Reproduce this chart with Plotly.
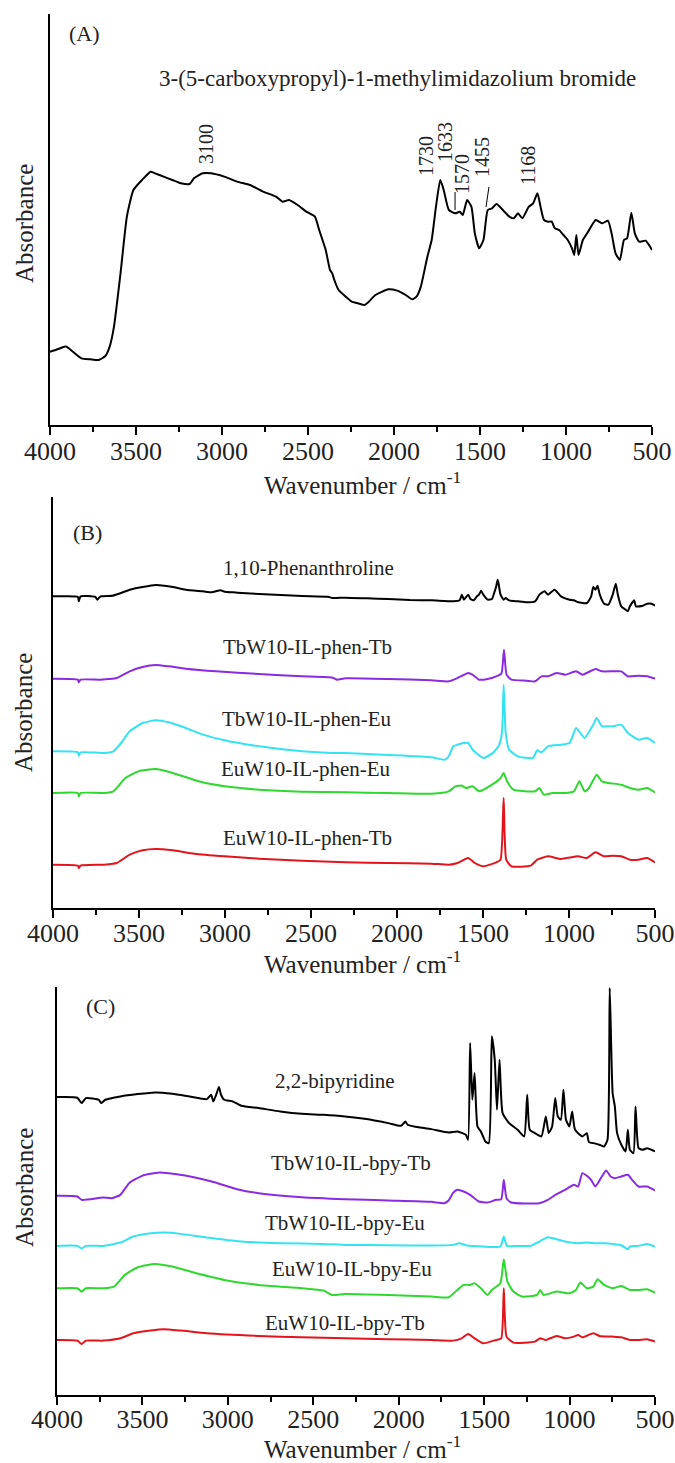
import plotly.graph_objects as go

# ---------------- Panel A : 3-(5-carboxypropyl)-1-methylimidazolium bromide ----------------
A_wn = [4000, 3967, 3917, 3905, 3867, 3817, 3766, 3716, 3678, 3653, 3628, 3590, 3553, 3515, 3465,
        3415, 3389, 3339, 3289, 3239, 3188, 3163, 3113, 3063, 2987, 2912, 2837, 2761, 2686, 2648,
        2611, 2560, 2510, 2460, 2435, 2397, 2372, 2359, 2347, 2322, 2281, 2246, 2209, 2171, 2146,
        2108, 2033, 1982, 1932, 1894, 1869, 1844, 1806, 1781, 1756, 1731, 1711, 1681, 1643, 1618,
        1600, 1575, 1550, 1530, 1505, 1480, 1455, 1430, 1404, 1367, 1329, 1304, 1279, 1254, 1216,
        1191, 1166, 1148, 1128, 1103, 1083, 1065, 1040, 1015, 990, 965, 952, 940, 927, 902,
        877, 827, 789, 756, 735, 712, 687, 663, 645, 620, 600, 575, 537, 500]
A_abs = [22.0, 22.5, 23.5, 23.5, 22.0, 20.0, 19.7, 19.5, 20.7, 23.5, 29.5, 45.5, 62.5, 70.5, 73.5,
         76.0, 75.5, 74.5, 73.5, 72.5, 72.3, 74.0, 75.5, 75.5, 74.5, 73.0, 72.0, 70.0, 68.5, 67.0,
         67.5, 66.0, 64.0, 62.5, 58.5, 52.5, 46.5, 45.5, 43.5, 40.5, 38.5, 37.0, 36.5, 36.0, 37.0,
         39.0, 40.7, 40.3, 39.0, 37.7, 38.5, 41.5, 50.5, 55.5, 65.5, 73.5, 70.5, 64.5, 63.5, 64.0,
         63.0, 67.5, 65.5, 57.5, 53.0, 55.5, 64.5, 65.0, 66.3, 64.5, 62.5, 62.0, 63.5, 62.0, 65.5,
         66.5, 69.5, 65.5, 61.5, 61.0, 61.0, 59.0, 58.5, 57.0, 55.5, 53.0, 51.0, 57.0, 51.0, 55.5,
         57.5, 61.5, 60.5, 61.3, 57.5, 51.5, 49.5, 55.5, 56.0, 63.7, 57.5, 55.0, 55.3, 52.5]
A_title = "3-(5-carboxypropyl)-1-methylimidazolium bromide"
A_peak_text = ["3100", "1730", "1633", "1570", "1455", "1168"]
A_peak_text_wn = [3093, 1814, 1704, 1605, 1488, 1221]
A_peak_text_y = [84.3, 80.7, 84.9, 75.3, 80.4, 78.0]
A_leader_wn0 = [1645, 1448]
A_leader_wn1 = [1645, 1465]
A_leader_y0 = [69.9, 71.4]
A_leader_y1 = [64.5, 65.4]

# ---------------- Panel B : phen series ----------------
B_black_wn = [4000, 3930, 3855, 3850, 3840, 3754, 3742, 3724, 3654, 3604, 3554, 3479, 3403, 3353,
              3303, 3228, 3128, 3077, 3027, 3002, 2952, 2902, 2802, 2676, 2551, 2401, 2375, 2300,
              2175, 2050, 1924, 1799, 1673, 1636, 1623, 1611, 1586, 1573, 1553, 1536, 1523, 1511,
              1498, 1473, 1448, 1435, 1423, 1415, 1410, 1398, 1380, 1368, 1348, 1297, 1247, 1197,
              1172, 1142, 1122, 1084, 1047, 997, 972, 947, 896, 871, 859, 846, 834, 821, 796,
              771, 746, 728, 716, 696, 671, 658, 646, 621, 611, 570, 545, 520, 500]
B_black = [93.5, 93.5, 93.3, 92.0, 93.5, 93.3, 92.5, 93.5, 93.7, 94.5, 95.5, 96.3, 96.9, 96.7,
           96.3, 95.5, 95.0, 94.7, 95.3, 94.9, 94.7, 94.5, 94.2, 93.9, 93.6, 93.4, 93.0, 93.1,
           92.9, 92.7, 92.4, 92.3, 92.0, 92.3, 94.0, 92.5, 94.0, 92.7, 92.3, 93.5, 94.0, 95.2,
           94.0, 92.5, 92.7, 94.5, 96.5, 98.5, 97.5, 94.0, 92.5, 93.0, 92.3, 92.0, 91.7, 92.0,
           94.0, 95.0, 94.0, 95.5, 93.5, 92.5, 92.3, 91.7, 91.5, 93.5, 96.3, 95.5, 96.7, 94.0, 91.3,
           91.0, 94.0, 97.3, 94.0, 90.5, 89.5, 89.0, 90.5, 92.3, 90.5, 90.7, 91.3, 91.3, 90.7]

B_purple_wn = [4000, 3855, 3850, 3840, 3729, 3679, 3629, 3554, 3479, 3403, 3328, 3228, 3052, 2802,
               2551, 2375, 2350, 2300, 2050, 1799, 1699, 1648, 1586, 1561, 1523, 1473, 1423, 1393,
               1378, 1363, 1335, 1247, 1197, 1160, 1122, 1072, 1022, 959, 921, 846, 809, 746,
               696, 658, 596, 545, 500]
B_purple = [68.8, 68.5, 67.7, 68.5, 68.5, 68.7, 69.0, 71.0, 72.3, 72.9, 72.5, 71.8, 71.0, 70.2,
            69.5, 69.1, 68.5, 68.9, 68.7, 68.3, 68.0, 69.0, 70.5, 70.0, 68.5, 68.7, 69.5, 70.3,
            77.5, 70.0, 68.5, 68.2, 68.0, 69.5, 69.5, 70.5, 70.0, 71.0, 70.0, 71.7, 71.0, 71.0,
            71.0, 69.5, 69.7, 69.5, 68.8]

B_cyan_wn = [4000, 3855, 3850, 3840, 3704, 3649, 3604, 3554, 3479, 3403, 3328, 3228, 3128, 3002,
             2802, 2551, 2375, 2300, 2050, 1799, 1724, 1699, 1673, 1648, 1611, 1586, 1561, 1498,
             1448, 1410, 1390, 1380, 1368, 1348, 1297, 1210, 1185, 1160, 1122, 1047, 997, 959,
             934, 909, 859, 839, 809, 784, 746, 696, 658, 596, 545, 500]
B_cyan = [47.0, 46.7, 45.7, 46.7, 46.5, 47.0, 49.5, 53.0, 55.5, 56.3, 55.7, 54.0, 52.0, 50.3,
          48.5, 47.0, 46.5, 46.5, 45.9, 45.2, 44.5, 45.5, 48.5, 49.0, 49.5, 49.5, 47.5, 45.0,
          46.3, 48.5, 52.5, 67.0, 52.5, 47.5, 45.5, 45.0, 47.3, 46.7, 48.5, 49.0, 49.5, 54.0,
          52.5, 51.0, 55.0, 57.0, 54.5, 54.5, 54.5, 55.0, 52.5, 50.5, 51.0, 49.5]

B_green_wn = [4000, 3855, 3850, 3840, 3704, 3649, 3579, 3504, 3403, 3303, 3153, 3002, 2802, 2551,
              2300, 2050, 1799, 1699, 1661, 1623, 1598, 1561, 1523, 1448, 1398, 1380, 1360, 1323,
              1197, 1172, 1147, 1097, 1022, 972, 939, 909, 884, 839, 809, 771, 696, 646, 596,
              545, 500]
B_green = [34.5, 34.5, 33.5, 34.5, 34.5, 35.0, 39.0, 41.0, 41.7, 40.5, 38.0, 36.5, 35.5, 34.9,
           34.7, 34.5, 34.3, 35.0, 36.5, 36.7, 36.0, 36.5, 35.0, 37.0, 39.0, 40.5, 38.0, 35.5,
           35.0, 36.0, 34.0, 34.5, 34.5, 35.0, 38.0, 35.0, 36.0, 40.0, 38.0, 37.5, 37.0, 36.0,
           35.5, 36.0, 34.7]

B_red_wn = [4000, 3855, 3850, 3840, 3704, 3629, 3554, 3479, 3403, 3303, 3178, 3002, 2802, 2551,
            2300, 2050, 1799, 1699, 1648, 1586, 1548, 1498, 1423, 1398, 1380, 1365, 1335, 1222,
            1185, 1122, 1047, 947, 896, 846, 796, 746, 696, 646, 596, 545, 500]
B_red = [13.0, 12.7, 12.0, 12.7, 13.0, 13.5, 16.0, 17.3, 17.7, 17.3, 16.3, 15.5, 14.8, 14.2,
         13.7, 13.5, 13.3, 13.0, 13.5, 15.0, 13.5, 12.5, 13.7, 14.5, 33.0, 14.5, 12.5, 12.7,
         14.5, 15.5, 14.7, 15.5, 15.0, 16.7, 15.5, 15.7, 15.5, 14.5, 14.5, 15.0, 13.7]

B_labels = ["1,10-Phenanthroline", "TbW10-IL-phen-Tb", "TbW10-IL-phen-Eu",
            "EuW10-IL-phen-Eu", "EuW10-IL-phen-Tb"]
B_label_wn = [2512, 2523, 2523, 2529, 2523]
B_label_y = [102.1, 78.4, 56.8, 41.8, 21.1]

# ---------------- Panel C : bpy series ----------------
C_black_wn = [4000, 3881, 3856, 3831, 3755, 3742, 3717, 3629, 3527, 3426, 3325, 3224, 3123, 3098,
              3085, 3065, 3052, 3040, 3022, 2971, 2921, 2820, 2694, 2567, 2441, 2314, 2188, 2062,
              1986, 1961, 1948, 1910, 1809, 1708, 1657, 1607, 1594, 1582, 1569, 1556, 1539, 1519,
              1493, 1473, 1455, 1438, 1425, 1410, 1392, 1354, 1304, 1266, 1248, 1233, 1203, 1165,
              1139, 1122, 1102, 1084, 1069, 1051, 1036, 1021, 1001, 985, 968, 925, 899, 887,
              861, 824, 798, 778, 765, 748, 735, 722, 697, 672, 659, 647, 626, 614, 596, 571,
              546, 500]
C_black = [89.3, 89.1, 87.5, 89.0, 88.5, 87.5, 88.5, 89.5, 90.2, 90.7, 90.3, 89.5, 88.7, 90.0,
           88.0, 90.5, 92.3, 90.0, 88.5, 88.0, 86.7, 86.0, 85.0, 84.3, 84.0, 83.5, 82.7, 81.5,
           80.7, 82.0, 81.0, 80.5, 79.7, 78.7, 79.0, 78.0, 76.5, 105.5, 88.5, 96.5, 80.5, 79.0,
           76.0, 75.5, 107.5, 100.5, 85.5, 100.5, 84.5, 81.5, 79.5, 77.5, 90.0, 79.5, 78.5, 77.5,
           83.5, 78.5, 80.5, 89.0, 83.5, 82.5, 91.5, 82.5, 80.5, 85.0, 79.5, 77.5, 78.5, 75.8,
           75.5, 75.0, 74.5, 76.5, 122.0, 90.5, 86.5, 78.5, 75.0, 73.0, 79.5, 73.5, 72.5, 86.5,
           74.0, 73.5, 74.0, 73.0]

C_purple_wn = [4000, 3881, 3856, 3730, 3679, 3629, 3578, 3502, 3401, 3300, 3199, 3073, 2946, 2820,
               2567, 2314, 2062, 1809, 1733, 1708, 1683, 1657, 1620, 1582, 1531, 1481, 1430, 1400,
               1385, 1369, 1342, 1177, 1127, 1076, 1026, 975, 950, 925, 899, 874, 849, 811,
               786, 760, 735, 697, 659, 634, 596, 546, 500]
C_purple = [59.7, 59.5, 58.5, 59.2, 59.0, 60.0, 63.5, 65.7, 66.7, 66.2, 65.3, 63.7, 61.7, 60.5,
            59.3, 58.7, 58.3, 57.9, 57.5, 58.3, 60.5, 61.5, 61.0, 60.0, 58.0, 57.7, 58.5, 58.7,
            64.5, 59.0, 57.7, 57.5, 58.5, 60.2, 61.5, 63.0, 62.5, 66.5, 65.7, 64.5, 62.5, 65.5,
            67.3, 65.5, 65.0, 65.5, 66.0, 64.5, 62.5, 62.5, 61.3]

C_cyan_wn = [4000, 3881, 3856, 3831, 3730, 3629, 3553, 3452, 3376, 3275, 3123, 2921, 2694, 2441,
             2314, 2062, 1809, 1683, 1645, 1607, 1506, 1405, 1385, 1367, 1304, 1228, 1177, 1127,
             1076, 1026, 950, 899, 849, 798, 748, 697, 659, 647, 596, 546, 500]
C_cyan = [44.7, 44.7, 43.9, 44.7, 44.7, 45.7, 47.5, 48.5, 48.7, 48.3, 47.2, 46.0, 45.5, 45.3,
          45.0, 44.9, 44.8, 45.0, 45.5, 44.9, 44.5, 44.5, 47.5, 44.7, 44.7, 44.7, 46.0, 47.3,
          46.7, 46.0, 45.5, 45.7, 45.5, 45.5, 45.3, 44.9, 43.7, 44.5, 44.7, 45.3, 44.5]

C_green_wn = [4000, 3881, 3856, 3831, 3730, 3666, 3603, 3527, 3426, 3325, 3199, 3022, 2820, 2567,
              2441, 2390, 2314, 2062, 1809, 1708, 1657, 1620, 1582, 1556, 1519, 1481, 1455, 1405,
              1385, 1364, 1329, 1278, 1190, 1172, 1152, 1076, 1001, 963, 937, 899, 861, 836,
              798, 748, 697, 647, 596, 546, 500]
C_green = [32.0, 32.0, 31.0, 32.0, 32.0, 32.5, 36.0, 38.3, 39.3, 38.5, 36.7, 34.5, 33.0, 32.0,
           31.3, 30.0, 30.3, 30.0, 29.5, 29.3, 31.5, 33.0, 33.0, 33.5, 32.0, 30.0, 31.5, 33.5,
           40.7, 34.0, 31.0, 29.5, 30.0, 31.5, 30.0, 31.0, 30.5, 31.5, 33.7, 32.0, 32.5, 34.7,
           33.0, 32.0, 32.7, 31.5, 31.5, 31.7, 30.7]

C_red_wn = [4000, 3881, 3856, 3831, 3730, 3629, 3553, 3452, 3376, 3275, 3123, 2820, 2567, 2314,
            2062, 1809, 1683, 1632, 1594, 1556, 1506, 1430, 1400, 1385, 1369, 1329, 1203, 1172,
            1139, 1076, 1026, 975, 950, 925, 861, 824, 748, 697, 647, 596, 546, 500]
C_red = [16.5, 16.3, 15.3, 16.3, 16.3, 17.0, 18.5, 19.3, 19.7, 19.3, 18.5, 17.7, 17.3, 17.0,
         16.7, 16.5, 16.3, 17.0, 18.3, 17.0, 15.5, 16.5, 17.0, 32.0, 17.5, 15.7, 16.0, 17.0,
         16.5, 17.7, 17.0, 17.5, 18.0, 17.3, 18.5, 17.7, 17.5, 17.3, 16.5, 16.5, 16.7, 16.0]

C_labels = ["2,2-bipyridine", "TbW10-IL-bpy-Tb", "TbW10-IL-bpy-Eu",
            "EuW10-IL-bpy-Eu", "EuW10-IL-bpy-Tb"]
C_label_wn = [2373, 2279, 2314, 2273, 2314]
C_label_y = [94.2, 69.6, 51.6, 37.8, 21.6]

panel_letters = ["(A)", "(B)", "(C)"]
panel_letter_wn = [3802, 3797, 3748]
panel_letter_y = [117.6, 112.6, 116.4]

x_ticks = [4000, 3500, 3000, 2500, 2000, 1500, 1000, 500]

# ---------------- styles ----------------
W, H = 675, 1463
FONT = "Liberation Serif, Times New Roman, serif"
BLACK = "#000000"
PURPLE = "#8A2BE2"
CYAN = "#33E3F2"
GREEN = "#2ED82E"
RED = "#E3141C"

fig = go.Figure()


def add_line(x, y, color, xa, ya):
    fig.add_trace(go.Scatter(x=x, y=y, mode="lines",
                             line=dict(color=color, width=2, shape="spline", smoothing=0.5),
                             xaxis=xa, yaxis=ya, showlegend=False, hoverinfo="skip"))


add_line(A_wn, A_abs, BLACK, "x", "y")
for wn, ab, col in [(B_black_wn, B_black, BLACK), (B_purple_wn, B_purple, PURPLE),
                    (B_cyan_wn, B_cyan, CYAN), (B_green_wn, B_green, GREEN),
                    (B_red_wn, B_red, RED)]:
    add_line(wn, ab, col, "x2", "y2")
for wn, ab, col in [(C_black_wn, C_black, BLACK), (C_purple_wn, C_purple, PURPLE),
                    (C_cyan_wn, C_cyan, CYAN), (C_green_wn, C_green, GREEN),
                    (C_red_wn, C_red, RED)]:
    add_line(wn, ab, col, "x3", "y3")

# leader lines in panel A
for i in range(len(A_leader_wn0)):
    fig.add_shape(type="line", xref="x", yref="y", x0=A_leader_wn0[i], x1=A_leader_wn1[i],
                  y0=A_leader_y0[i], y1=A_leader_y1[i], line=dict(color=BLACK, width=1))


def xd(l, r):
    return [l / W, r / W]


def yd(top, bottom):
    return [1 - bottom / H, 1 - top / H]


xdom = [xd(50, 652), xd(53, 655), xd(57, 655)]
ydom = [yd(14, 425), yd(497, 908), yd(987, 1395)]
yranges = [[0, 123.3], [0, 123.3], [0, 122.3]]
standoffs = [-6, -7, -8]

layout = dict(width=W, height=H, margin=dict(l=0, r=0, t=0, b=0, pad=0, autoexpand=False),
              template="none",
              paper_bgcolor="white", plot_bgcolor="white", showlegend=False,
              font=dict(family=FONT, color=BLACK))
names = ["", "2", "3"]
for i, n in enumerate(names):
    layout["xaxis" + n] = dict(domain=xdom[i], range=[4000, 500], tickvals=x_ticks,
                               ticks="outside", ticklen=8, tickwidth=1.5, tickcolor=BLACK,
                               showline=True, linecolor=BLACK, linewidth=1.5, showgrid=False,
                               zeroline=False, anchor="y" + n, automargin=False,
                               ticklabelstandoff=standoffs[i],
                               tickfont=dict(family=FONT, size=26, color="#222"),
                               minor=dict(ticks="outside", ticklen=5, tickwidth=1.5,
                                          tickcolor=BLACK, dtick=250, tick0=500, showgrid=False))
    layout["yaxis" + n] = dict(domain=ydom[i], range=yranges[i], showline=True, linecolor=BLACK,
                               linewidth=1.5, showticklabels=False, ticks="", showgrid=False,
                               zeroline=False, anchor="x" + n, automargin=False)
fig.update_layout(**layout)

ann = []
TXT = dict(family=FONT, size=21, color="#222")
ann.append(dict(text=A_title, x=1977, y=104.1, xref="x", yref="y", showarrow=False,
                font=dict(family=FONT, size=23, color="#222"), xanchor="center", yanchor="middle"))
for t, xw, yv in zip(A_peak_text, A_peak_text_wn, A_peak_text_y):
    ann.append(dict(text=t, x=xw, y=yv, xref="x", yref="y", showarrow=False, textangle=-90,
                    font=dict(family=FONT, size=20, color="#222"),
                    xanchor="center", yanchor="middle"))
for t, xw, yv in zip(B_labels, B_label_wn, B_label_y):
    ann.append(dict(text=t, x=xw, y=yv, xref="x2", yref="y2", showarrow=False, font=TXT,
                    xanchor="center", yanchor="middle"))
for t, xw, yv in zip(C_labels, C_label_wn, C_label_y):
    ann.append(dict(text=t, x=xw, y=yv, xref="x3", yref="y3", showarrow=False, font=TXT,
                    xanchor="center", yanchor="middle"))
for t, xw, yv, n in zip(panel_letters, panel_letter_wn, panel_letter_y, names):
    ann.append(dict(text=t, x=xw, y=yv, xref="x" + n, yref="y" + n, showarrow=False,
                    font=dict(family=FONT, size=22, color="#222"),
                    xanchor="center", yanchor="middle"))
for yc in [483, 962, 1447]:
    ann.append(dict(text="Wavenumber / cm<sup>-1</sup>", x=362 / W, y=1 - yc / H, xref="paper",
                    yref="paper", showarrow=False, font=dict(family=FONT, size=25, color="#222"),
                    xanchor="center", yanchor="middle"))
for yc in [224, 713, 1188]:
    ann.append(dict(text="Absorbance", x=24 / W, y=1 - yc / H, xref="paper", yref="paper",
                    showarrow=False, textangle=-90,
                    font=dict(family=FONT, size=25, color="#222"),
                    xanchor="center", yanchor="middle"))
fig.update_layout(annotations=ann)

fig.write_html("out.html", config={"displayModeBar": False},
               post_script="document.body.style.margin='0';document.body.style.padding='0';"
                           "document.documentElement.style.overflow='hidden';")
